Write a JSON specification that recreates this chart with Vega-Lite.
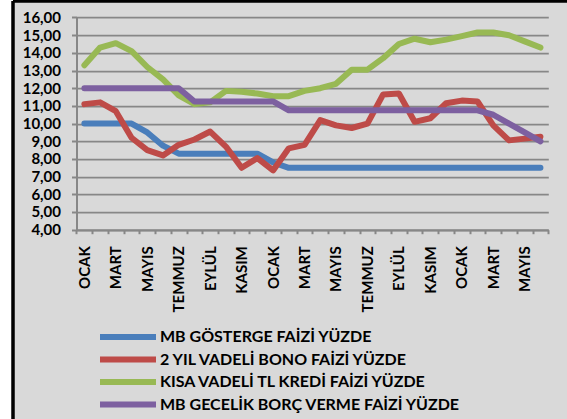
{
  "$schema": "https://vega.github.io/schema/vega-lite/v6.json",
  "width": 554,
  "height": 418,
  "autosize": {"type": "none"},
  "padding": {"left": 13, "top": 1, "right": 0, "bottom": 0},
  "background": "white",
  "config": {
    "view": {"fill": "#d9d9d9", "stroke": "black", "strokeWidth": 3.5, "strokeDash": [554, 972, 418, 0]},
    "font": "Lato",
    "axis": {
      "domainColor": "#878787", "domainWidth": 2,
      "tickColor": "#878787", "tickWidth": 2,
      "gridColor": "#878787", "gridWidth": 1.75,
      "labelFont": "Lato", "labelFontWeight": "bold", "labelColor": "black", "labelFontSize": 15,
      "title": null
    },
    "legend": {"labelFont": "Lato", "labelFontWeight": "bold", "labelColor": "black", "labelFontSize": 16}
  },
  "data": {
    "values": [
      {"ay": "2010-01", "MB GÖSTERGE FAİZİ YÜZDE": 10.0, "2 YIL VADELİ BONO FAİZİ YÜZDE": 11.1, "KISA VADELİ TL KREDİ FAİZİ YÜZDE": 13.3, "MB GECELİK BORÇ VERME FAİZİ YÜZDE": 12.0},
      {"ay": "2010-02", "MB GÖSTERGE FAİZİ YÜZDE": 10.0, "2 YIL VADELİ BONO FAİZİ YÜZDE": 11.2, "KISA VADELİ TL KREDİ FAİZİ YÜZDE": 14.3, "MB GECELİK BORÇ VERME FAİZİ YÜZDE": 12.0},
      {"ay": "2010-03", "MB GÖSTERGE FAİZİ YÜZDE": 10.0, "2 YIL VADELİ BONO FAİZİ YÜZDE": 10.7, "KISA VADELİ TL KREDİ FAİZİ YÜZDE": 14.55, "MB GECELİK BORÇ VERME FAİZİ YÜZDE": 12.0},
      {"ay": "2010-04", "MB GÖSTERGE FAİZİ YÜZDE": 10.0, "2 YIL VADELİ BONO FAİZİ YÜZDE": 9.2, "KISA VADELİ TL KREDİ FAİZİ YÜZDE": 14.1, "MB GECELİK BORÇ VERME FAİZİ YÜZDE": 12.0},
      {"ay": "2010-05", "MB GÖSTERGE FAİZİ YÜZDE": 9.5, "2 YIL VADELİ BONO FAİZİ YÜZDE": 8.5, "KISA VADELİ TL KREDİ FAİZİ YÜZDE": 13.2, "MB GECELİK BORÇ VERME FAİZİ YÜZDE": 12.0},
      {"ay": "2010-06", "MB GÖSTERGE FAİZİ YÜZDE": 8.75, "2 YIL VADELİ BONO FAİZİ YÜZDE": 8.2, "KISA VADELİ TL KREDİ FAİZİ YÜZDE": 12.5, "MB GECELİK BORÇ VERME FAİZİ YÜZDE": 12.0},
      {"ay": "2010-07", "MB GÖSTERGE FAİZİ YÜZDE": 8.3, "2 YIL VADELİ BONO FAİZİ YÜZDE": 8.8, "KISA VADELİ TL KREDİ FAİZİ YÜZDE": 11.6, "MB GECELİK BORÇ VERME FAİZİ YÜZDE": 12.0},
      {"ay": "2010-08", "MB GÖSTERGE FAİZİ YÜZDE": 8.3, "2 YIL VADELİ BONO FAİZİ YÜZDE": 9.1, "KISA VADELİ TL KREDİ FAİZİ YÜZDE": 11.1, "MB GECELİK BORÇ VERME FAİZİ YÜZDE": 11.25},
      {"ay": "2010-09", "MB GÖSTERGE FAİZİ YÜZDE": 8.3, "2 YIL VADELİ BONO FAİZİ YÜZDE": 9.55, "KISA VADELİ TL KREDİ FAİZİ YÜZDE": 11.2, "MB GECELİK BORÇ VERME FAİZİ YÜZDE": 11.25},
      {"ay": "2010-10", "MB GÖSTERGE FAİZİ YÜZDE": 8.3, "2 YIL VADELİ BONO FAİZİ YÜZDE": 8.7, "KISA VADELİ TL KREDİ FAİZİ YÜZDE": 11.85, "MB GECELİK BORÇ VERME FAİZİ YÜZDE": 11.25},
      {"ay": "2010-11", "MB GÖSTERGE FAİZİ YÜZDE": 8.3, "2 YIL VADELİ BONO FAİZİ YÜZDE": 7.5, "KISA VADELİ TL KREDİ FAİZİ YÜZDE": 11.8, "MB GECELİK BORÇ VERME FAİZİ YÜZDE": 11.25},
      {"ay": "2010-12", "MB GÖSTERGE FAİZİ YÜZDE": 8.3, "2 YIL VADELİ BONO FAİZİ YÜZDE": 8.05, "KISA VADELİ TL KREDİ FAİZİ YÜZDE": 11.7, "MB GECELİK BORÇ VERME FAİZİ YÜZDE": 11.25},
      {"ay": "2011-01", "MB GÖSTERGE FAİZİ YÜZDE": 7.8, "2 YIL VADELİ BONO FAİZİ YÜZDE": 7.35, "KISA VADELİ TL KREDİ FAİZİ YÜZDE": 11.55, "MB GECELİK BORÇ VERME FAİZİ YÜZDE": 11.25},
      {"ay": "2011-02", "MB GÖSTERGE FAİZİ YÜZDE": 7.5, "2 YIL VADELİ BONO FAİZİ YÜZDE": 8.6, "KISA VADELİ TL KREDİ FAİZİ YÜZDE": 11.55, "MB GECELİK BORÇ VERME FAİZİ YÜZDE": 10.75},
      {"ay": "2011-03", "MB GÖSTERGE FAİZİ YÜZDE": 7.5, "2 YIL VADELİ BONO FAİZİ YÜZDE": 8.8, "KISA VADELİ TL KREDİ FAİZİ YÜZDE": 11.85, "MB GECELİK BORÇ VERME FAİZİ YÜZDE": 10.75},
      {"ay": "2011-04", "MB GÖSTERGE FAİZİ YÜZDE": 7.5, "2 YIL VADELİ BONO FAİZİ YÜZDE": 10.2, "KISA VADELİ TL KREDİ FAİZİ YÜZDE": 12.0, "MB GECELİK BORÇ VERME FAİZİ YÜZDE": 10.75},
      {"ay": "2011-05", "MB GÖSTERGE FAİZİ YÜZDE": 7.5, "2 YIL VADELİ BONO FAİZİ YÜZDE": 9.9, "KISA VADELİ TL KREDİ FAİZİ YÜZDE": 12.25, "MB GECELİK BORÇ VERME FAİZİ YÜZDE": 10.75},
      {"ay": "2011-06", "MB GÖSTERGE FAİZİ YÜZDE": 7.5, "2 YIL VADELİ BONO FAİZİ YÜZDE": 9.75, "KISA VADELİ TL KREDİ FAİZİ YÜZDE": 13.05, "MB GECELİK BORÇ VERME FAİZİ YÜZDE": 10.75},
      {"ay": "2011-07", "MB GÖSTERGE FAİZİ YÜZDE": 7.5, "2 YIL VADELİ BONO FAİZİ YÜZDE": 10.0, "KISA VADELİ TL KREDİ FAİZİ YÜZDE": 13.05, "MB GECELİK BORÇ VERME FAİZİ YÜZDE": 10.75},
      {"ay": "2011-08", "MB GÖSTERGE FAİZİ YÜZDE": 7.5, "2 YIL VADELİ BONO FAİZİ YÜZDE": 11.65, "KISA VADELİ TL KREDİ FAİZİ YÜZDE": 13.7, "MB GECELİK BORÇ VERME FAİZİ YÜZDE": 10.75},
      {"ay": "2011-09", "MB GÖSTERGE FAİZİ YÜZDE": 7.5, "2 YIL VADELİ BONO FAİZİ YÜZDE": 11.7, "KISA VADELİ TL KREDİ FAİZİ YÜZDE": 14.5, "MB GECELİK BORÇ VERME FAİZİ YÜZDE": 10.75},
      {"ay": "2011-10", "MB GÖSTERGE FAİZİ YÜZDE": 7.5, "2 YIL VADELİ BONO FAİZİ YÜZDE": 10.1, "KISA VADELİ TL KREDİ FAİZİ YÜZDE": 14.8, "MB GECELİK BORÇ VERME FAİZİ YÜZDE": 10.75},
      {"ay": "2011-11", "MB GÖSTERGE FAİZİ YÜZDE": 7.5, "2 YIL VADELİ BONO FAİZİ YÜZDE": 10.3, "KISA VADELİ TL KREDİ FAİZİ YÜZDE": 14.6, "MB GECELİK BORÇ VERME FAİZİ YÜZDE": 10.75},
      {"ay": "2011-12", "MB GÖSTERGE FAİZİ YÜZDE": 7.5, "2 YIL VADELİ BONO FAİZİ YÜZDE": 11.15, "KISA VADELİ TL KREDİ FAİZİ YÜZDE": 14.75, "MB GECELİK BORÇ VERME FAİZİ YÜZDE": 10.75},
      {"ay": "2012-01", "MB GÖSTERGE FAİZİ YÜZDE": 7.5, "2 YIL VADELİ BONO FAİZİ YÜZDE": 11.3, "KISA VADELİ TL KREDİ FAİZİ YÜZDE": 14.95, "MB GECELİK BORÇ VERME FAİZİ YÜZDE": 10.75},
      {"ay": "2012-02", "MB GÖSTERGE FAİZİ YÜZDE": 7.5, "2 YIL VADELİ BONO FAİZİ YÜZDE": 11.25, "KISA VADELİ TL KREDİ FAİZİ YÜZDE": 15.15, "MB GECELİK BORÇ VERME FAİZİ YÜZDE": 10.75},
      {"ay": "2012-03", "MB GÖSTERGE FAİZİ YÜZDE": 7.5, "2 YIL VADELİ BONO FAİZİ YÜZDE": 9.9, "KISA VADELİ TL KREDİ FAİZİ YÜZDE": 15.15, "MB GECELİK BORÇ VERME FAİZİ YÜZDE": 10.5},
      {"ay": "2012-04", "MB GÖSTERGE FAİZİ YÜZDE": 7.5, "2 YIL VADELİ BONO FAİZİ YÜZDE": 9.05, "KISA VADELİ TL KREDİ FAİZİ YÜZDE": 15.0, "MB GECELİK BORÇ VERME FAİZİ YÜZDE": 10.0},
      {"ay": "2012-05", "MB GÖSTERGE FAİZİ YÜZDE": 7.5, "2 YIL VADELİ BONO FAİZİ YÜZDE": 9.15, "KISA VADELİ TL KREDİ FAİZİ YÜZDE": 14.65, "MB GECELİK BORÇ VERME FAİZİ YÜZDE": 9.5},
      {"ay": "2012-06", "MB GÖSTERGE FAİZİ YÜZDE": 7.5, "2 YIL VADELİ BONO FAİZİ YÜZDE": 9.25, "KISA VADELİ TL KREDİ FAİZİ YÜZDE": 14.3, "MB GECELİK BORÇ VERME FAİZİ YÜZDE": 9.0}
    ]
  },
  "transform": [
    {"fold": ["MB GÖSTERGE FAİZİ YÜZDE", "2 YIL VADELİ BONO FAİZİ YÜZDE", "KISA VADELİ TL KREDİ FAİZİ YÜZDE", "MB GECELİK BORÇ VERME FAİZİ YÜZDE"], "as": ["seri", "deger"]}
  ],
  "mark": {"type": "line", "strokeWidth": 6, "strokeCap": "round", "strokeJoin": "round"},
  "encoding": {
    "x": {
      "field": "ay", "type": "ordinal",
      "scale": {
        "type": "band", "paddingInner": 0, "paddingOuter": 0.113, "align": 0.166,
        "domain": ["_a", "_b", "_c", "_d",
          "2010-01", "2010-02", "2010-03", "2010-04", "2010-05", "2010-06", "2010-07", "2010-08", "2010-09", "2010-10", "2010-11", "2010-12",
          "2011-01", "2011-02", "2011-03", "2011-04", "2011-05", "2011-06", "2011-07", "2011-08", "2011-09", "2011-10", "2011-11", "2011-12",
          "2012-01", "2012-02", "2012-03", "2012-04", "2012-05", "2012-06", "_z"]
      },
      "axis": {
        "offset": -189.3,
        "values": ["2010-01", "2010-02", "2010-03", "2010-04", "2010-05", "2010-06", "2010-07", "2010-08", "2010-09", "2010-10", "2010-11", "2010-12",
          "2011-01", "2011-02", "2011-03", "2011-04", "2011-05", "2011-06", "2011-07", "2011-08", "2011-09", "2011-10", "2011-11", "2011-12",
          "2012-01", "2012-02", "2012-03", "2012-04", "2012-05", "2012-06"],
        "domainDash": [0, 63.5, 471.8, 100],
        "tickBand": "extent", "tickSize": 4,
        "labelAngle": 270, "labelPadding": 12, "labelOverlap": false,
        "labelExpr": "isString(datum.value) ? ['OCAK','','MART','','MAYIS','','TEMMUZ','','EYLÜL','','KASIM',''][toNumber(substring(datum.value,5,7))-1] : ''"
      }
    },
    "y": {
      "field": "deger", "type": "quantitative",
      "scale": {"domain": [-6.707, 16.933], "nice": false, "zero": false},
      "axis": {
        "offset": -63.5,
        "values": [4, 5, 6, 7, 8, 9, 10, 11, 12, 13, 14, 15, 16],
        "domainDash": [0, 189.3, 212.2, 100],
        "grid": true, "gridDash": [0, 63.5, 471.8, 100],
        "tickSize": 5, "labelPadding": 11,
        "labelExpr": "replace(format(datum.value, '.2f'), '.', ',')"
      }
    },
    "color": {
      "field": "seri", "type": "nominal",
      "scale": {
        "domain": ["MB GÖSTERGE FAİZİ YÜZDE", "2 YIL VADELİ BONO FAİZİ YÜZDE", "KISA VADELİ TL KREDİ FAİZİ YÜZDE", "MB GECELİK BORÇ VERME FAİZİ YÜZDE"],
        "range": ["#4a7ebb", "#be4b48", "#98b954", "#7d60a0"]
      },
      "legend": {
        "title": null, "orient": "none", "legendX": 107, "legendY": 328, "padding": 0,
        "symbolType": "M-8,0H8", "symbolSize": 49, "symbolStrokeWidth": 6,
        "labelOffset": 24, "rowPadding": -1.5, "labelLimit": 500
      }
    }
  }
}
